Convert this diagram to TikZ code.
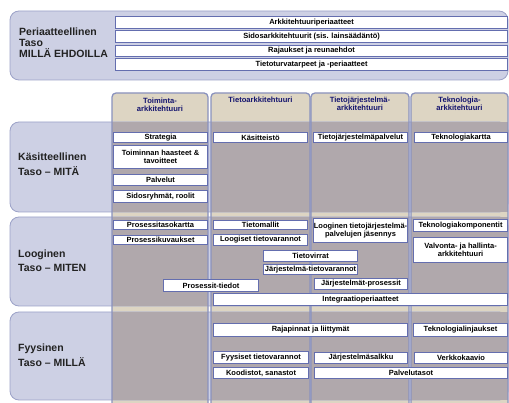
\documentclass[tikz,border=0pt]{standalone}
\usepackage{fontspec}
\setmainfont{Liberation Sans}
\definecolor{band}{HTML}{CDD0E4}
\definecolor{bandline}{HTML}{9CA2C8}
\definecolor{colgrey}{HTML}{B0A8AC}
\definecolor{coltan}{HTML}{DDD5C3}
\definecolor{colline}{HTML}{8A92BE}
\definecolor{boxline}{HTML}{646EAF}
\definecolor{headtxt}{HTML}{14146E}
\definecolor{lbltxt}{HTML}{222222}
\newcommand\bxx[6]{%
  \pgfmathsetmacro\bxw{#4-#2}%
  \pgfmathsetmacro\bxh{#5-#3}%
  \node[bx, minimum width=\bxw pt, minimum height=\bxh pt] (#1) at (#2,#3) {#6};}
\begin{document}
\begin{tikzpicture}[x=1pt,y=-1pt,
  bx/.style={draw=boxline, line width=1.1pt, fill=white, inner sep=0pt,
    font=\bfseries\fontsize{7.5}{8}\selectfont, align=center, anchor=north west},
  lvl/.style={anchor=west, font=\bfseries\fontsize{10.5}{11}\selectfont, text=lbltxt, inner sep=0pt},
  hd/.style={font=\bfseries\fontsize{7.6}{8}\selectfont, text=headtxt, align=center, inner sep=0pt},
  bandbox/.style={fill=band, draw=bandline, line width=0.8pt, rounded corners=9pt},
  colbg/.style={fill=coltan, rounded corners=4pt},
  colfr/.style={draw=colline, line width=1.3pt, rounded corners=4pt},
  colseg/.style={fill=colgrey}
]
\useasboundingbox (0,0) rectangle (509,403);
\fill[white] (0,0) rectangle (509,403);
\clip (0,0) rectangle (509,403);
% columns background
\foreach \a/\b in {112/208, 211/310, 311/409, 411/508}{
  \path[colbg] (\a,93) rectangle (\b,415);
}
% bands
\path[bandbox] (10,11) rectangle (508,80);
\path[bandbox] (10,122) rectangle (508,212);
\path[bandbox] (10,217) rectangle (508,306);
\path[bandbox] (10,312) rectangle (508,400);
% grey column segments inside bands
\foreach \a/\b in {112/208, 211/310, 311/409, 411/508}{
  \foreach \t/\u in {122/212, 217/306, 312/400}{
    \path[colseg] (\a,\t) rectangle (\b,\u);
  }
}
% column frames
\foreach \a/\b in {112/208, 211/310, 311/409, 411/508}{
  \path[colfr] (\a,93) rectangle (\b,415);
}
% column headers
\node[hd] (h1) at (160,104.5) {Toiminta-\\arkkitehtuuri};
\node[hd] (h2) at (260.5,100) {Tietoarkkitehtuuri};
\node[hd] (h3) at (360,103.5) {Tietojärjestelmä-\\arkkitehtuuri};
\node[hd] (h4) at (459.5,104) {Teknologia-\\arkkitehtuuri};
% level labels
\node[lvl] (l1a) at (19,32) {Periaatteellinen};
\node[lvl] (l1b) at (19,43) {Taso};
\node[lvl] (l1c) at (19,53) {MILLÄ EHDOILLA};
\node[lvl] (l2a) at (18,157) {Käsitteellinen};
\node[lvl] (l2b) at (18,171) {Taso – MITÄ};
\node[lvl] (l3a) at (18,255) {Looginen};
\node[lvl] (l3b) at (18,268) {Taso – MITEN};
\node[lvl] (l4a) at (18,349) {Fyysinen};
\node[lvl] (l4b) at (18,362) {Taso – MILLÄ};
% band 1
\bxx{p1}{115}{16}{507}{28}{Arkkitehtuuriperiaatteet}
\bxx{p2}{115}{30}{507}{42}{Sidosarkkitehtuurit (sis. lainsäädäntö)}
\bxx{p3}{115}{45}{507}{56}{Rajaukset ja reunaehdot}
\bxx{p4}{115}{58}{507}{70}{Tietoturvatarpeet ja -periaatteet}
% band 2
\bxx{strat}{113}{132}{207}{142}{Strategia}
\bxx{haast}{113}{145}{207}{168}{Toiminnan haasteet \&\\tavoitteet}
\bxx{palv}{113}{174}{207}{185}{Palvelut}
\bxx{sidos}{113}{190}{207}{202}{Sidosryhmät, roolit}
\bxx{kasit}{213}{132}{307}{142}{Käsitteistö}
\bxx{tjpalv}{313}{132}{407}{142}{Tietojärjestelmäpalvelut}
\bxx{tekkart}{414}{132}{507}{142}{Teknologiakartta}
% band 3
\bxx{proskart}{113}{220}{207}{229}{Prosessitasokartta}
\bxx{proskuv}{113}{235}{207}{244}{Prosessikuvaukset}
\bxx{tmall}{213}{220}{307}{229}{Tietomallit}
\bxx{logtv}{213}{234}{307}{245}{Loogiset tietovarannot}
\bxx{tvirr}{263}{250}{357}{261}{Tietovirrat}
\bxx{jtv}{263}{264}{357}{274}{Järjestelmä-tietovarannot}
\bxx{prosti}{163}{279}{258}{291}{Prosessit-tiedot}
\bxx{integ}{213}{293}{507}{305}{Integraatioperiaatteet}
\bxx{logtj}{313}{218}{407}{242}{Looginen tietojärjestelmä-\\palvelujen jäsennys}
\bxx{jpros}{314}{278}{407}{289}{Järjestelmät-prosessit}
\bxx{tkomp}{413}{219}{507}{231}{Teknologiakomponentit}
\bxx{valv}{413}{237}{507}{262}{Valvonta- ja hallinta-\\arkkitehtuuri}
% band 4
\bxx{rajap}{213}{323}{407}{336}{Rajapinnat ja liittymät}
\bxx{teklinj}{413}{323}{507}{336}{Teknologialinjaukset}
\bxx{fyys}{213}{351}{308}{363}{Fyysiset tietovarannot}
\bxx{jsalk}{314}{352}{407}{363}{Järjestelmäsalkku}
\bxx{verk}{414}{352}{507}{363}{Verkkokaavio}
\bxx{kood}{213}{367}{308}{378}{Koodistot, sanastot}
\bxx{palvt}{314}{367}{507}{378}{Palvelutasot}
\end{tikzpicture}
\end{document}
